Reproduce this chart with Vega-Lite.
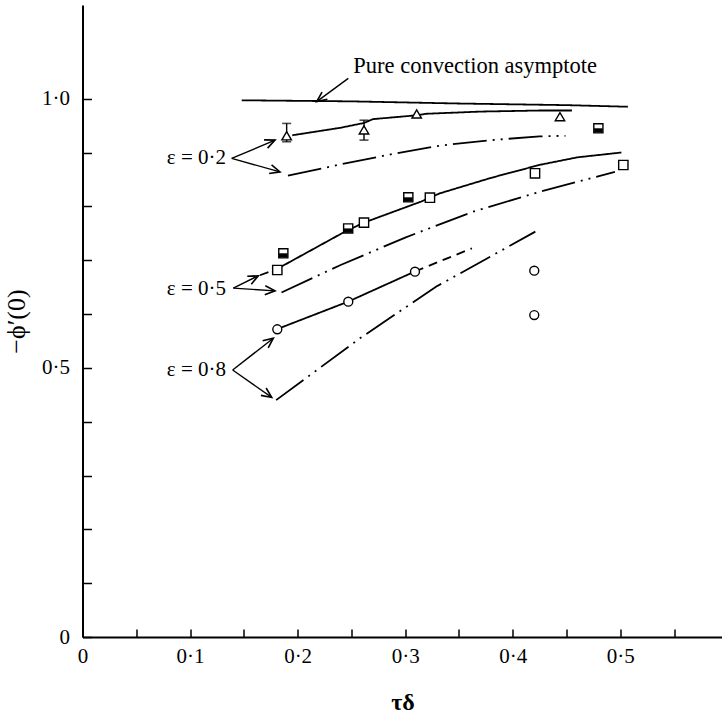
{
  "$schema": "https://vega.github.io/schema/vega-lite/v6.json",
  "width": 640,
  "height": 632,
  "autosize": {"type": "none"},
  "padding": {"left": 82.5, "top": 5, "right": 0, "bottom": 76},
  "background": "white",
  "config": {
    "view": {"stroke": null},
    "font": "Liberation Serif",
    "axis": {
      "grid": false,
      "domainColor": "black",
      "domainWidth": 2,
      "tickColor": "black",
      "tickWidth": 1.5,
      "labelColor": "black",
      "titleColor": "black",
      "labelFont": "Liberation Serif",
      "titleFont": "Liberation Serif",
      "labelFontSize": 21,
      "labelOverlap": false,
      "labelFlush": false
    },
    "axisX": {"tickSize": -8, "labelPadding": 16, "titlePadding": 24},
    "axisY": {"tickSize": -9, "labelPadding": 22, "titlePadding": 12}
  },
  "datasets": {
    "curves": [
      {"curve": "asymptote", "group": "fit", "x": 0.148, "y": 0.997},
      {"curve": "asymptote", "group": "fit", "x": 0.25, "y": 0.995},
      {"curve": "asymptote", "group": "fit", "x": 0.35, "y": 0.991},
      {"curve": "asymptote", "group": "fit", "x": 0.45, "y": 0.988},
      {"curve": "asymptote", "group": "fit", "x": 0.507, "y": 0.985},

      {"curve": "e02 fit", "group": "fit", "x": 0.195, "y": 0.932},
      {"curve": "e02 fit", "group": "fit", "x": 0.24, "y": 0.946},
      {"curve": "e02 fit", "group": "fit", "x": 0.262, "y": 0.955},
      {"curve": "e02 fit", "group": "fit", "x": 0.27, "y": 0.962},
      {"curve": "e02 fit", "group": "fit", "x": 0.31, "y": 0.969},
      {"curve": "e02 fit", "group": "fit", "x": 0.32, "y": 0.972},
      {"curve": "e02 fit", "group": "fit", "x": 0.37, "y": 0.976},
      {"curve": "e02 fit", "group": "fit", "x": 0.425, "y": 0.978},
      {"curve": "e02 fit", "group": "fit", "x": 0.455, "y": 0.978},

      {"curve": "e02 theory", "group": "theory", "x": 0.191, "y": 0.857},
      {"curve": "e02 theory", "group": "theory", "x": 0.24, "y": 0.878},
      {"curve": "e02 theory", "group": "theory", "x": 0.29, "y": 0.898},
      {"curve": "e02 theory", "group": "theory", "x": 0.333, "y": 0.913},
      {"curve": "e02 theory", "group": "theory", "x": 0.38, "y": 0.923},
      {"curve": "e02 theory", "group": "theory", "x": 0.425, "y": 0.93},
      {"curve": "e02 theory", "group": "theory", "x": 0.449, "y": 0.931},

      {"curve": "e05 ext", "group": "extrapolated", "x": 0.165, "y": 0.672},
      {"curve": "e05 ext", "group": "extrapolated", "x": 0.18, "y": 0.683},

      {"curve": "e05 fit", "group": "fit", "x": 0.183, "y": 0.686},
      {"curve": "e05 fit", "group": "fit", "x": 0.244, "y": 0.753},
      {"curve": "e05 fit", "group": "fit", "x": 0.262, "y": 0.77},
      {"curve": "e05 fit", "group": "fit", "x": 0.315, "y": 0.809},
      {"curve": "e05 fit", "group": "fit", "x": 0.332, "y": 0.824},
      {"curve": "e05 fit", "group": "fit", "x": 0.38, "y": 0.853},
      {"curve": "e05 fit", "group": "fit", "x": 0.425, "y": 0.877},
      {"curve": "e05 fit", "group": "fit", "x": 0.46, "y": 0.891},
      {"curve": "e05 fit", "group": "fit", "x": 0.501, "y": 0.9},

      {"curve": "e05 theory", "group": "theory", "x": 0.185, "y": 0.64},
      {"curve": "e05 theory", "group": "theory", "x": 0.24, "y": 0.691},
      {"curve": "e05 theory", "group": "theory", "x": 0.3, "y": 0.742},
      {"curve": "e05 theory", "group": "theory", "x": 0.363, "y": 0.79},
      {"curve": "e05 theory", "group": "theory", "x": 0.425, "y": 0.827},
      {"curve": "e05 theory", "group": "theory", "x": 0.495, "y": 0.864},

      {"curve": "e08 fit", "group": "fit", "x": 0.181, "y": 0.572},
      {"curve": "e08 fit", "group": "fit", "x": 0.247, "y": 0.623},
      {"curve": "e08 fit", "group": "fit", "x": 0.309, "y": 0.679},

      {"curve": "e08 ext", "group": "extrapolated", "x": 0.309, "y": 0.679},
      {"curve": "e08 ext", "group": "extrapolated", "x": 0.362, "y": 0.722},

      {"curve": "e08 theory", "group": "theory", "x": 0.18, "y": 0.44},
      {"curve": "e08 theory", "group": "theory", "x": 0.258, "y": 0.555},
      {"curve": "e08 theory", "group": "theory", "x": 0.329, "y": 0.651},
      {"curve": "e08 theory", "group": "theory", "x": 0.421, "y": 0.753}
    ],
    "points": [
      {"symbol": "triangle", "x": 0.1898, "y": 0.931},
      {"symbol": "triangle", "x": 0.2617, "y": 0.942},
      {"symbol": "triangle", "x": 0.3107, "y": 0.9716},
      {"symbol": "triangle", "x": 0.4439, "y": 0.9666},
      {"symbol": "half square", "x": 0.1867, "y": 0.7128},
      {"symbol": "half square", "x": 0.247, "y": 0.759},
      {"symbol": "half square", "x": 0.3029, "y": 0.8168},
      {"symbol": "half square", "x": 0.4796, "y": 0.945},
      {"symbol": "square", "x": 0.1811, "y": 0.6817},
      {"symbol": "square", "x": 0.2617, "y": 0.7697},
      {"symbol": "square", "x": 0.323, "y": 0.816},
      {"symbol": "square", "x": 0.4207, "y": 0.8614},
      {"symbol": "square", "x": 0.5028, "y": 0.8768},
      {"symbol": "circle", "x": 0.1811, "y": 0.5716},
      {"symbol": "circle", "x": 0.2471, "y": 0.6229},
      {"symbol": "circle", "x": 0.3091, "y": 0.6786},
      {"symbol": "circle", "x": 0.42, "y": 0.6805},
      {"symbol": "circle", "x": 0.42, "y": 0.598}
    ],
    "errors": [
      {"x": 0.1898, "y": 0.92, "y2": 0.954},
      {"x": 0.2617, "y": 0.923, "y2": 0.96}
    ],
    "arrows": [
      {"x": 0.2471, "y": 1.0378, "x2": 0.2177, "y2": 0.9945},
      {"x": 0.1387, "y": 0.889, "x2": 0.179, "y2": 0.923},
      {"x": 0.1387, "y": 0.889, "x2": 0.1836, "y2": 0.864},
      {"x": 0.1402, "y": 0.648, "x2": 0.1634, "y2": 0.671},
      {"x": 0.1402, "y": 0.648, "x2": 0.179, "y2": 0.643},
      {"x": 0.1396, "y": 0.496, "x2": 0.1774, "y2": 0.555},
      {"x": 0.1396, "y": 0.496, "x2": 0.1759, "y2": 0.445}
    ],
    "epsLabels": [
      {"text": "ε = 0·2", "x": 0.1334, "y": 0.889},
      {"text": "ε = 0·5", "x": 0.1334, "y": 0.646},
      {"text": "ε = 0·8", "x": 0.1334, "y": 0.496}
    ],
    "note": [
      {"text": "Pure convection asymptote", "x": 0.2518, "y": 1.0472}
    ]
  },
  "layer": [
    {
      "data": {"name": "curves"},
      "mark": {"type": "line", "color": "black", "strokeWidth": 1.8},
      "encoding": {
        "x": {
          "field": "x", "type": "quantitative",
          "scale": {"domain": [0, 0.595], "nice": false, "zero": false},
          "axis": {
            "title": "τδ",
            "titleFontSize": 24,
            "titleFontWeight": "bold",
            "values": [0, 0.05, 0.1, 0.15, 0.2, 0.25, 0.3, 0.35, 0.4, 0.45, 0.5, 0.55],
            "labelExpr": "datum.value == 0 ? '0' : (abs(datum.value * 10 - round(datum.value * 10)) < 0.001 ? replace(format(datum.value, '.1f'), '.', '·') : '')"
          }
        },
        "y": {
          "field": "y", "type": "quantitative",
          "scale": {"domain": [0, 1.174], "nice": false, "zero": false},
          "axis": {
            "title": "−ϕ′(0)",
            "titleFontSize": 26,
            "titleFontWeight": "normal",
            "values": [0, 0.1, 0.2, 0.3, 0.4, 0.5, 0.6, 0.7, 0.8, 0.9, 1.0],
            "labelExpr": "datum.value == 0 ? '0' : (abs(datum.value * 2 - round(datum.value * 2)) < 0.001 ? replace(format(datum.value, '.1f'), '.', '·') : '')"
          }
        },
        "detail": {"field": "curve"},
        "strokeDash": {
          "field": "group", "type": "nominal", "legend": null,
          "scale": {"domain": ["fit", "theory", "extrapolated"], "range": [[1, 0], [34, 6, 2, 6, 2, 6], [9, 6]]}
        }
      }
    },
    {
      "data": {"name": "errors"},
      "layer": [
        {
          "mark": {"type": "rule", "color": "black", "strokeWidth": 1.4},
          "encoding": {
            "x": {"field": "x", "type": "quantitative", "title": "τδ"},
            "y": {"field": "y", "type": "quantitative", "title": "−ϕ′(0)"},
            "y2": {"field": "y2"}
          }
        },
        {
          "mark": {"type": "tick", "color": "black", "orient": "horizontal", "size": 9, "thickness": 1.6},
          "encoding": {
            "x": {"field": "x", "type": "quantitative", "title": "τδ"},
            "y": {"field": "y", "type": "quantitative", "title": "−ϕ′(0)"}
          }
        },
        {
          "mark": {"type": "tick", "color": "black", "orient": "horizontal", "size": 9, "thickness": 1.6},
          "encoding": {
            "x": {"field": "x", "type": "quantitative", "title": "τδ"},
            "y": {"field": "y2", "type": "quantitative", "title": "−ϕ′(0)"}
          }
        }
      ]
    },
    {
      "data": {"name": "points"},
      "mark": {"type": "point", "filled": true, "color": "white", "stroke": "black", "strokeWidth": 1.4, "opacity": 1},
      "encoding": {
        "x": {"field": "x", "type": "quantitative", "title": "τδ"},
        "y": {"field": "y", "type": "quantitative", "title": "−ϕ′(0)"},
        "shape": {
          "field": "symbol", "type": "nominal", "legend": null,
          "scale": {"domain": ["triangle", "square", "half square", "circle"], "range": ["triangle-up", "square", "square", "circle"]}
        },
        "size": {
          "field": "symbol", "type": "nominal", "legend": null,
          "scale": {"domain": ["triangle", "square", "half square", "circle"], "range": [90, 80, 74, 95]}
        }
      }
    },
    {
      "data": {"name": "points"},
      "transform": [{"filter": "datum.symbol == 'half square'"}],
      "mark": {"type": "point", "filled": true, "color": "black", "strokeWidth": 0, "opacity": 1, "shape": "M-1,0L1,0L1,1L-1,1Z", "size": 74},
      "encoding": {
        "x": {"field": "x", "type": "quantitative", "title": "τδ"},
        "y": {"field": "y", "type": "quantitative", "title": "−ϕ′(0)"}
      }
    },
    {
      "data": {"name": "arrows"},
      "mark": {"type": "rule", "color": "black", "strokeWidth": 1.4},
      "encoding": {
        "x": {"field": "x", "type": "quantitative", "title": "τδ"},
        "y": {"field": "y", "type": "quantitative", "title": "−ϕ′(0)"},
        "x2": {"field": "x2"},
        "y2": {"field": "y2"}
      }
    },
    {
      "data": {"name": "arrows"},
      "transform": [
        {"calculate": "atan2(-(datum.y2 - datum.y) * 538.3, (datum.x2 - datum.x) * 1075.6) * 180 / PI", "as": "heading"}
      ],
      "mark": {"type": "point", "filled": false, "color": "black", "strokeWidth": 1.6, "opacity": 1, "shape": "M-1,-0.45L0,0L-1,0.45", "size": 400},
      "encoding": {
        "x": {"field": "x2", "type": "quantitative", "title": "τδ"},
        "y": {"field": "y2", "type": "quantitative", "title": "−ϕ′(0)"},
        "angle": {"field": "heading", "type": "quantitative", "scale": null}
      }
    },
    {
      "data": {"name": "epsLabels"},
      "mark": {"type": "text", "align": "right", "baseline": "middle", "font": "Liberation Serif", "fontSize": 21, "color": "black"},
      "encoding": {
        "x": {"field": "x", "type": "quantitative", "title": "τδ"},
        "y": {"field": "y", "type": "quantitative", "title": "−ϕ′(0)"},
        "text": {"field": "text"}
      }
    },
    {
      "data": {"name": "note"},
      "mark": {"type": "text", "align": "left", "baseline": "alphabetic", "font": "Liberation Serif", "fontSize": 22.5, "color": "black"},
      "encoding": {
        "x": {"field": "x", "type": "quantitative", "title": "τδ"},
        "y": {"field": "y", "type": "quantitative", "title": "−ϕ′(0)"},
        "text": {"field": "text"}
      }
    }
  ]
}
